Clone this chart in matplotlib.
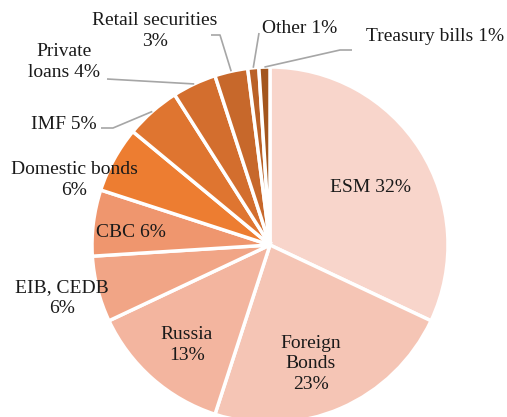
import numpy as np
import matplotlib
matplotlib.use('Agg')
import matplotlib.pyplot as plt

# debt holders, share in percent
labels = ['ESM', 'Foreign\nBonds', 'Russia', 'EIB, CEDB', 'CBC', 'Domestic bonds',
          'IMF', 'Private\nloans', 'Retail securities', 'Other', 'Treasury bills']
values = [32, 23, 13, 6, 6, 6, 5, 4, 3, 1, 1]
colors = ['#F8D5CB', '#F5C5B5', '#F3B59F', '#F1A586', '#EF966E', '#ED7D31',
          '#DF7530', '#D36E2E', '#C7682B', '#BA6127', '#A3561E']

W, H = 507, 417
cx, cy, R = 270, H - 245, 178

fig = plt.figure(figsize=(W / 100, H / 100), dpi=100)
ax = fig.add_axes([0, 0, 1, 1])

ax.pie(values, colors=colors, startangle=90, counterclock=False,
       center=(cx, cy), radius=R, frame=True,
       wedgeprops=dict(edgecolor='white', linewidth=2.5))
ax.set_xlim(0, W)
ax.set_ylim(0, H)
ax.set_aspect('equal')
ax.axis('off')

font = dict(family='Liberation Serif', size=14, color='#1a1a1a')

# label text and its centre in pixels (x, y from top)
texts = [
    ('ESM 32%', (370, 187)),
    ('Foreign\nBonds\n23%', (311, 364)),
    ('Russia\n13%', (187, 345)),
    ('EIB, CEDB\n6%', (62, 298)),
    ('CBC 6%', (131, 232)),
    ('Domestic bonds\n6%', (74, 180)),
    ('IMF 5%', (64, 124)),
    ('Private\nloans 4%', (64, 62)),
    ('Retail securities\n3%', (155, 31)),
    ('Other 1%', (300, 28)),
    ('Treasury bills 1%', (435, 36)),
]
for t, (x, y) in texts:
    ax.text(x, H - y, t, ha='center', va='center', multialignment='center',
            linespacing=1.25, **font)

# leader lines: label side points (pixels), then to wedge middle on edge
cum = np.cumsum([0] + values)
total = sum(values)
leaders = {
    6: [(101, 128), (113, 128)],
    7: [(107, 79)],
    8: [(211, 35), (220, 35)],
    9: [(259, 33)],
    10: [(352, 50), (340, 50)],
}
for i, pts in leaders.items():
    mid = (cum[i] + values[i] / 2) / total * 2 * np.pi
    ex = cx + R * np.sin(mid)
    ey = cy + R * np.cos(mid)
    xs = [p[0] for p in pts] + [ex]
    ys = [H - p[1] for p in pts] + [ey]
    ax.plot(xs, ys, color='#A6A6A6', lw=1.2, solid_capstyle='butt')

fig.savefig('out.png', dpi=100)
